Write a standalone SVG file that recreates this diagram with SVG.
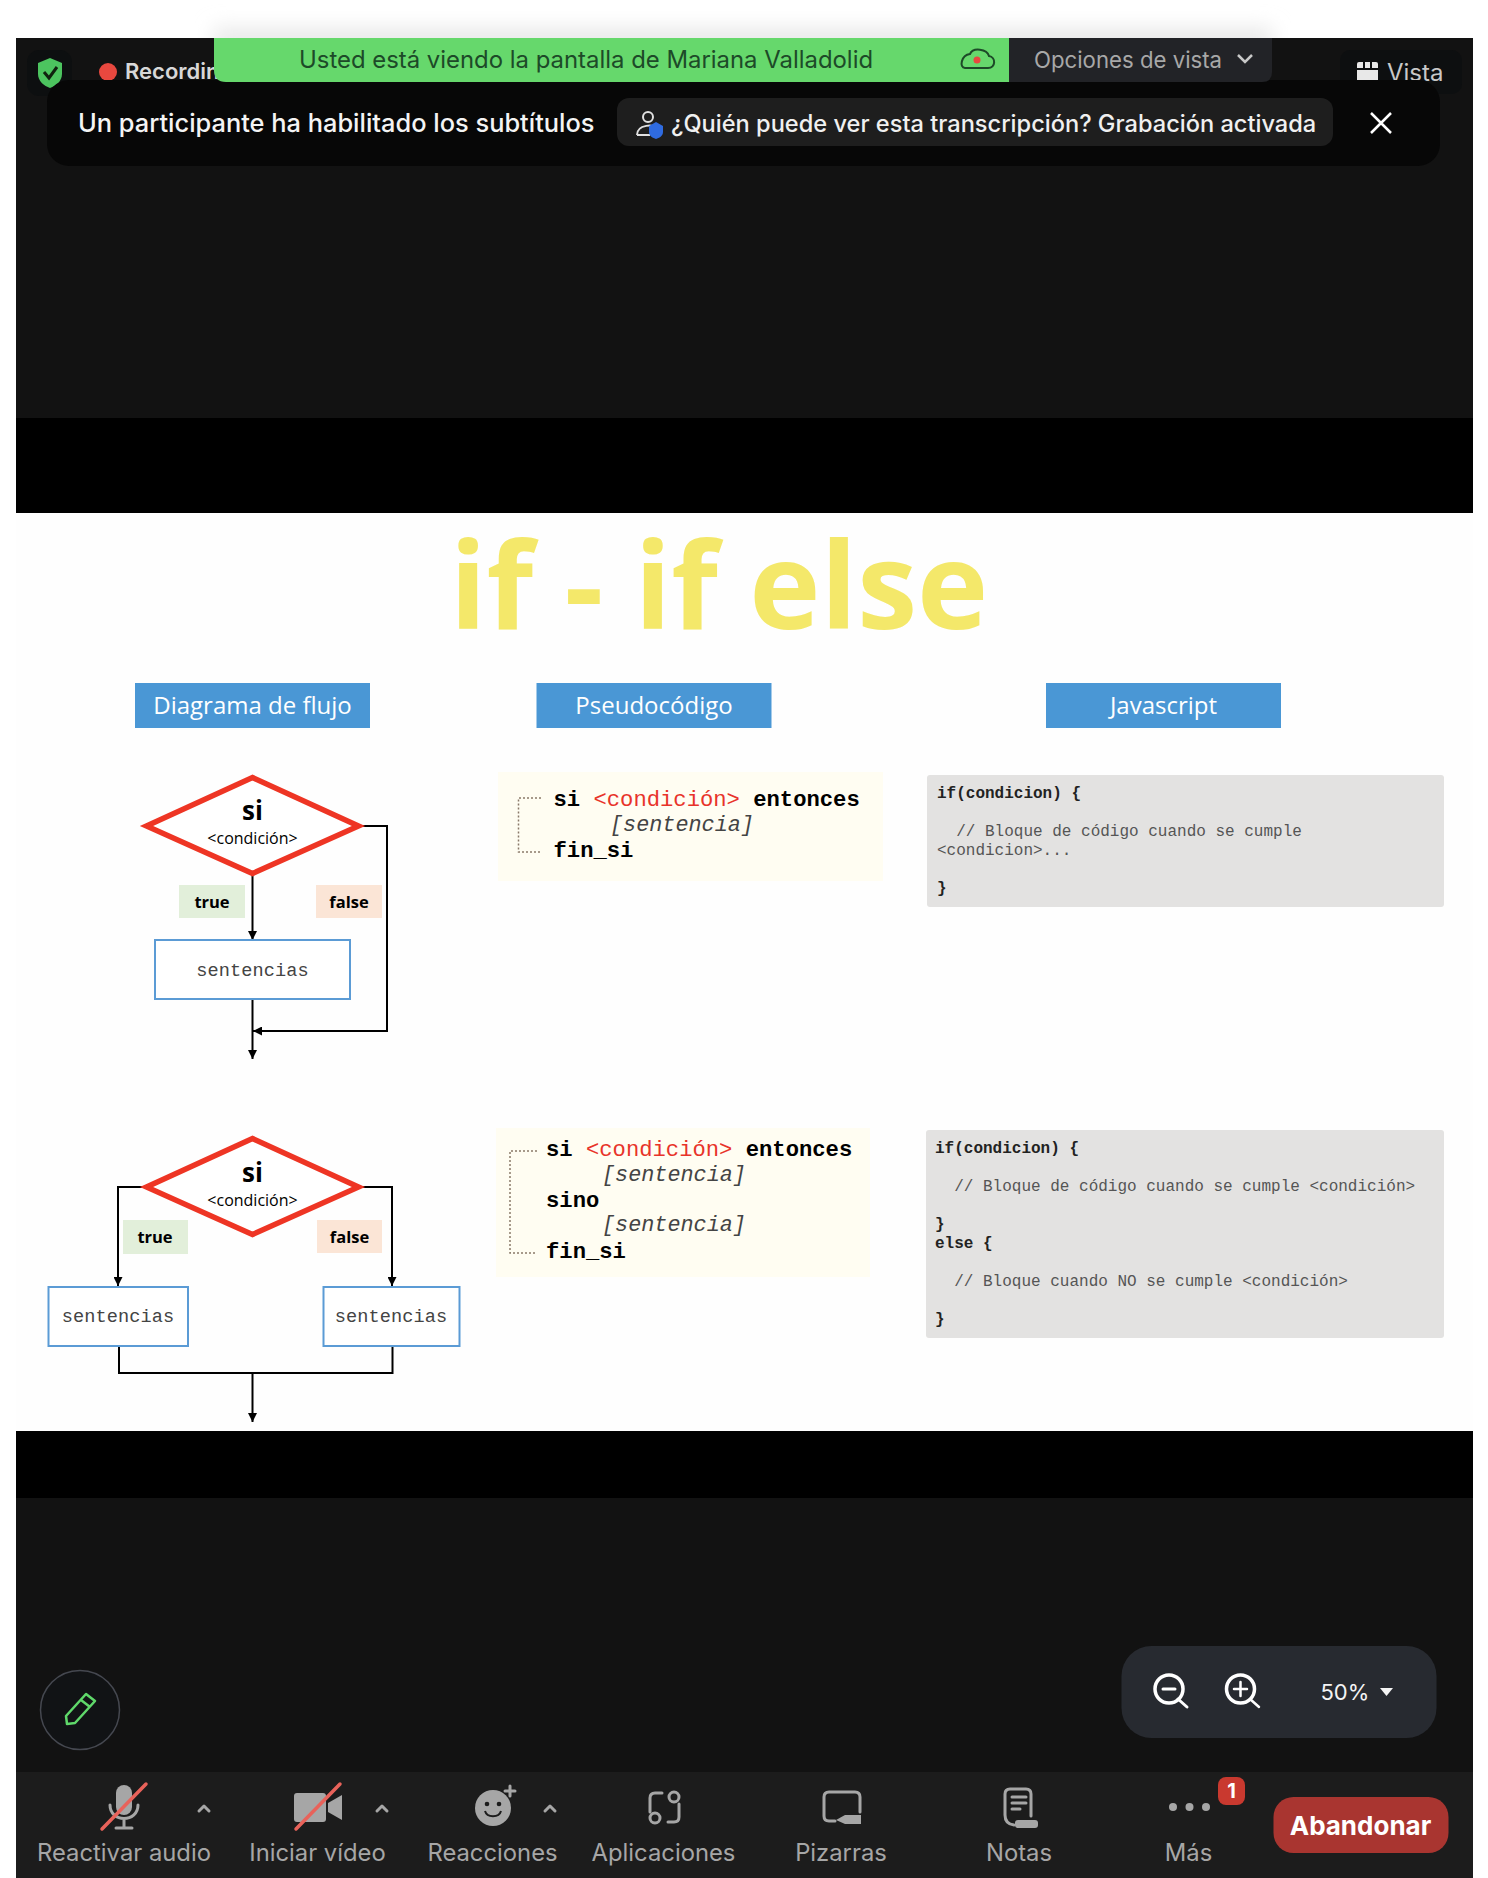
<svg xmlns="http://www.w3.org/2000/svg" width="1488" height="1878" viewBox="0 0 1488 1878">
<defs>
<filter id="blur" x="-5%" y="-150%" width="110%" height="400%"><feGaussianBlur stdDeviation="10"/></filter>
<marker id="ah" viewBox="0 0 9 9" refX="9" refY="4.500" markerWidth="9" markerHeight="9" markerUnits="userSpaceOnUse" orient="auto"><path d="M0 0L9 4.500L0 9Z" fill="#000"/></marker>
</defs>
<style>
.ui{font-family:Inter,"Liberation Sans",sans-serif}
.lbl{font-family:Inter,"Liberation Sans",sans-serif;font-size:23.800px;fill:#a6a6a6;text-anchor:middle}
.sl{font-family:"Open Sans","Liberation Sans",sans-serif}
.hd{font-family:"Open Sans","Liberation Sans",sans-serif;font-size:24px;fill:#fff;text-anchor:middle}
.hb{fill:#4a97d5}
.dia{fill:#fff;stroke:#ee3524;stroke-width:5.500;stroke-linejoin:miter}
.si{font-family:"Open Sans","Liberation Sans",sans-serif;font-size:26px;font-weight:700;fill:#000;text-anchor:middle}
.co{font-family:"Open Sans","Liberation Sans",sans-serif;font-size:16px;fill:#000;text-anchor:middle}
.tf{font-family:"Open Sans","Liberation Sans",sans-serif;font-size:16.500px;font-weight:700;fill:#000;text-anchor:middle}
.box{fill:#fff;stroke:#5b9bd5;stroke-width:2}
.sen{font-family:"Liberation Mono",monospace;font-size:18.600px;letter-spacing:.1px;fill:#444;text-anchor:middle}
.cn{fill:none;stroke:#000;stroke-width:2}
.ps{font-family:"Liberation Mono",monospace;font-size:22.200px;font-weight:700;fill:#000}
.pr{font-weight:400;fill:#e8332a}
.pi{font-family:"Liberation Mono",monospace;font-size:21.800px;font-style:italic;fill:#444}
.dot{fill:none;stroke:#8a7a6a;stroke-width:1.500;stroke-dasharray:2 2}
.js{font-family:"Liberation Mono",monospace;font-size:16px;font-weight:700;fill:#222}
.jc{font-family:"Liberation Mono",monospace;font-size:16px;fill:#555}
.ic{fill:none;stroke:#a6a6a6;stroke-width:3;stroke-linecap:round;stroke-linejoin:round}
.if{fill:#a6a6a6}
.sl2{stroke:#e8625a;stroke-width:3.500;stroke-linecap:round}
</style>
<rect width="1488" height="1878" fill="#fff"/>
<rect x="214" y="28" width="1058" height="24" fill="#e8e8e8" filter="url(#blur)"/>
<rect x="16" y="38" width="1457" height="380" fill="#121212"/>
<rect x="16" y="418" width="1457" height="95" fill="#000"/>
<rect x="16" y="513" width="1457" height="918" fill="#fefefe"/>
<rect x="16" y="1431" width="1457" height="67" fill="#000"/>
<rect x="16" y="1498" width="1457" height="274" fill="#121212"/>
<rect x="16" y="1772" width="1457" height="106" fill="#1c1c1c"/>

<g id="security"><rect x="27" y="50" width="45" height="46" rx="12" fill="#0d0f10"/><path d="M50 58L62 63V74C62 81 56 86 50 88C44 86 38 81 38 74V63Z" fill="#4cc45f"/><path d="M44 72L49 78L57 67" fill="none" stroke="#10220f" stroke-width="3"/></g>
<g id="recording"><circle cx="108" cy="72" r="9" fill="#e8483f"/><text class="ui" x="125" y="79" font-size="22" font-weight="600" fill="#d8d8d8">Recording</text></g>
<g id="vista"><rect x="1340" y="50" width="122" height="44" rx="10" fill="#0d0f10"/><rect x="1357" y="62" width="21" height="20" rx="2" fill="#e8e8e8"/><path d="M1364 62V68M1371 62V68M1357 69H1378" stroke="#0d0f10" stroke-width="2"/><text class="ui" x="1387" y="81" font-size="24" fill="#c8c8c8">Vista</text></g>
<g id="banner">
<rect x="47" y="80" width="1393" height="86" rx="22" fill="#070707"/>
<text class="ui" x="78" y="132" font-size="25.400" font-weight="500" fill="#f4f4f4">Un participante ha habilitado los subtítulos</text>
<rect x="617" y="98" width="716" height="48" rx="12" fill="#1e1e1e"/>
<circle cx="648" cy="117" r="5" fill="none" stroke="#e0e0e0" stroke-width="2"/><path d="M637 135C637 124 655 124 657 128M637 135H650" fill="none" stroke="#e0e0e0" stroke-width="2"/><path d="M656 122L663 126V132C663 136 659 138 656 139C653 138 649 136 649 132V126Z" fill="#2f6be0"/>
<text class="ui" x="671" y="132" font-size="23.600" font-weight="500" fill="#f0f0f0">¿Quién puede ver esta transcripción? Grabación activada</text>
<path d="M1371 113L1391 133M1391 113L1371 133" stroke="#fff" stroke-width="2.500" fill="none"/>
</g>
<g id="share-bar">
<path d="M214 38H1009V82H226Q214 82 214 70Z" fill="#66d86c"/>
<path d="M1009 38H1272V72Q1272 82 1262 82H1009Z" fill="#222327"/>
<text class="ui" x="299" y="68" font-size="23.900" fill="#1d4a28">Usted está viendo la pantalla de Mariana Valladolid</text>
<path d="M965 68H988C996 68 996 57 989 56C987 49 973 47 970 54C961 55 959 68 965 68Z" fill="none" stroke="#1d4a28" stroke-width="2"/><circle cx="977" cy="60" r="3.500" fill="#e8483f"/>
<text class="ui" x="1034" y="68" font-size="22.200" fill="#a8a8a8">Opciones de vista</text>
<path d="M1238 55L1245 62L1252 55" fill="none" stroke="#c8c8c8" stroke-width="2.500"/>
</g>

<g id="title"><text class="sl" x="719" y="629" font-size="120.500" font-weight="700" fill="#f4e86a" text-anchor="middle">if - if else</text></g>
<g id="h1"><rect class="hb" x="135" y="683" width="235" height="45"/><text class="hd" x="252.500" y="714">Diagrama de flujo</text></g>
<g id="h2"><rect class="hb" x="536.500" y="683" width="235" height="45"/><text class="hd" x="654" y="714">Pseudocódigo</text></g>
<g id="h3"><rect class="hb" x="1046" y="683" width="235" height="45"/><text class="hd" x="1163.500" y="714">Javascript</text></g>

<g id="connectors">
<path class="cn" d="M252.500 872V940" marker-end="url(#ah)"/>
<path class="cn" d="M252.500 999V1059" marker-end="url(#ah)"/>
<path class="cn" d="M360 826H387V1031H253" marker-end="url(#ah)"/>
<path class="cn" d="M148 1187H118V1286" marker-end="url(#ah)"/>
<path class="cn" d="M358 1187H392V1286" marker-end="url(#ah)"/>
<path class="cn" d="M119 1346V1373H392.500V1346"/>
<path class="cn" d="M252.500 1373V1422" marker-end="url(#ah)"/>
</g>

<g id="dec1"><path class="dia" d="M252.500 777.500L358.500 826L252.500 873.500L146.500 826Z"/><text class="si" x="252.500" y="820">si</text><text class="co" x="252.500" y="844">&lt;condición&gt;</text></g>
<g id="true1"><rect x="179" y="885" width="66" height="33" fill="#e2efda"/><text class="tf" x="212" y="907.500">true</text></g>
<g id="false1"><rect x="316" y="885" width="66" height="33" fill="#fbe5d6"/><text class="tf" x="349" y="907.500">false</text></g>
<g id="s1"><rect class="box" x="155" y="940" width="195" height="59"/><text class="sen" x="252.500" y="976">sentencias</text></g>

<g id="dec2"><path class="dia" d="M252.500 1138.500L358.500 1187L252.500 1234.500L146.500 1187Z"/><text class="si" x="252.500" y="1182">si</text><text class="co" x="252.500" y="1206">&lt;condición&gt;</text></g>
<g id="true2"><rect x="123" y="1220" width="65" height="34" fill="#e2efda"/><text class="tf" x="155" y="1243">true</text></g>
<g id="false2"><rect x="317" y="1220" width="65" height="33" fill="#fbe5d6"/><text class="tf" x="349.500" y="1243">false</text></g>
<g id="s2"><rect class="box" x="48.500" y="1287" width="139.500" height="59"/><text class="sen" x="118" y="1322">sentencias</text></g>
<g id="s3"><rect class="box" x="323.500" y="1287" width="136" height="59"/><text class="sen" x="391" y="1322">sentencias</text></g>

<g id="pseudo1"><rect x="498" y="772" width="385" height="109" fill="#fffdf2"/>
<path class="dot" d="M541 798H518.500V852H541"/>
<text class="ps" x="553.500" y="806">si <tspan class="pr">&lt;condición&gt;</tspan> entonces</text>
<text class="pi" x="610" y="831">[sentencia]</text>
<text class="ps" x="553.500" y="857">fin_si</text></g>
<g id="js1"><rect x="927" y="775" width="517" height="132" rx="3" fill="#e3e2e1"/>
<text class="js" x="937" y="797.500">if(condicion) {</text>
<text class="jc" x="937" y="836" xml:space="preserve">  // Bloque de código cuando se cumple</text>
<text class="jc" x="937" y="855">&lt;condicion&gt;...</text>
<text class="js" x="937" y="893">}</text></g>
<g id="pseudo2"><rect x="496" y="1128" width="374" height="149" fill="#fffdf2"/>
<path class="dot" d="M537 1151H510V1253H537"/>
<text class="ps" x="546" y="1155.500">si <tspan class="pr">&lt;condición&gt;</tspan> entonces</text>
<text class="pi" x="602" y="1181">[sentencia]</text>
<text class="ps" x="546" y="1206.500">sino</text>
<text class="pi" x="602" y="1231">[sentencia]</text>
<text class="ps" x="546" y="1258">fin_si</text></g>
<g id="js2"><rect x="926" y="1130" width="518" height="208" rx="3" fill="#e3e2e1"/>
<text class="js" x="935" y="1152.500">if(condicion) {</text>
<text class="jc" x="935" y="1191" xml:space="preserve">  // Bloque de código cuando se cumple &lt;condición&gt;</text>
<text class="js" x="935" y="1229">}</text>
<text class="js" x="935" y="1248">else {</text>
<text class="jc" x="935" y="1286" xml:space="preserve">  // Bloque cuando NO se cumple &lt;condición&gt;</text>
<text class="js" x="935" y="1324">}</text></g>

<g id="pen"><circle cx="80" cy="1710" r="39.500" fill="#111315" stroke="#454850" stroke-width="1.500"/><path d="M67 1724L66 1716L86 1694L95 1701L75 1723ZM81 1700L90 1707" fill="none" stroke="#5fd86a" stroke-width="2.500" stroke-linejoin="round"/></g>
<g id="zoom"><rect x="1121.500" y="1646" width="315" height="92" rx="30" fill="#272a30"/>
<circle cx="1169" cy="1689" r="14" fill="none" stroke="#fff" stroke-width="3.500"/><path d="M1178 1699L1187 1707M1163 1689H1175" stroke="#fff" stroke-width="3" stroke-linecap="round"/>
<circle cx="1240.500" cy="1689" r="14" fill="none" stroke="#fff" stroke-width="3.500"/><path d="M1250 1699L1259 1707M1234 1689H1247M1240.500 1682V1696" stroke="#fff" stroke-width="2.500" stroke-linecap="round"/>
<text class="ui" x="1320.500" y="1700" font-size="22" fill="#f4f4f4">50%</text><path d="M1380 1688H1393L1386.500 1696Z" fill="#f4f4f4"/></g>

<g id="audio"><rect x="116" y="1785" width="16" height="30" rx="8" class="if"/><path class="ic" d="M110 1805C110 1823 138 1823 138 1805M124 1819V1828M116 1828H132"/><path class="sl2" d="M146 1784L102 1829"/><text class="lbl" x="124" y="1860.500">Reactivar audio</text><path class="ic" d="M199 1811L204 1806L209 1811"/></g>
<g id="video"><rect x="294" y="1793" width="32" height="29" rx="3" class="if"/><path class="if" d="M328 1803L342 1795V1820L328 1812Z"/><path class="sl2" d="M340 1784L296 1829"/><text class="lbl" x="317.500" y="1860.500">Iniciar vídeo</text><path class="ic" d="M377 1811L382 1806L387 1811"/></g>
<g id="reactions"><circle cx="493" cy="1808" r="18" class="if"/><circle cx="487" cy="1804" r="2.300" fill="#1c1c1c"/><circle cx="499" cy="1804" r="2.300" fill="#1c1c1c"/><path d="M485 1811C487 1818 499 1818 501 1811" fill="none" stroke="#1c1c1c" stroke-width="2"/><path class="ic" d="M510 1786V1796M505 1791H515"/><text class="lbl" x="492.500" y="1860.500">Reacciones</text><path class="ic" d="M545 1811L550 1806L555 1811"/></g>
<g id="apps"><path class="ic" d="M650 1812V1798Q650 1793 655 1793H662M679 1804V1817Q679 1822 674 1822H668"/><circle cx="674" cy="1797" r="5" class="ic"/><circle cx="655" cy="1818" r="5" class="ic"/><text class="lbl" x="663.500" y="1860.500">Aplicaciones</text></g>
<g id="boards"><path class="ic" d="M835 1821H829Q824 1821 824 1816V1797Q824 1792 829 1792H855Q860 1792 860 1797V1812"/><path class="if" d="M836 1820L845 1815H861V1824H845Z"/><text class="lbl" x="841" y="1860.500">Pizarras</text></g>
<g id="notes"><path class="ic" d="M1005 1815V1794Q1005 1789 1010 1789H1026Q1031 1789 1031 1794V1816M1005 1815Q1005 1824 1014 1825"/><path class="ic" stroke-width="2" d="M1012 1797H1026M1012 1803H1026M1012 1809H1020"/><rect x="1015" y="1820" width="23" height="8" rx="3" class="if"/><text class="lbl" x="1019" y="1860.500">Notas</text></g>
<g id="more"><circle cx="1173" cy="1807" r="4" class="if"/><circle cx="1189.500" cy="1807" r="4" class="if"/><circle cx="1206" cy="1807" r="4" class="if"/><text class="lbl" x="1188.500" y="1860.500">Más</text>
<rect x="1218" y="1777" width="27" height="28" rx="8" fill="#c9392f"/><text class="ui" x="1231.500" y="1798" font-size="20" font-weight="700" fill="#fff" text-anchor="middle">1</text></g>
<g id="leave"><rect x="1273.500" y="1797" width="175" height="56" rx="20" fill="#a93530"/><text class="ui" x="1360.500" y="1834.500" font-size="26" font-weight="700" fill="#fff" text-anchor="middle">Abandonar</text></g>
</svg>
